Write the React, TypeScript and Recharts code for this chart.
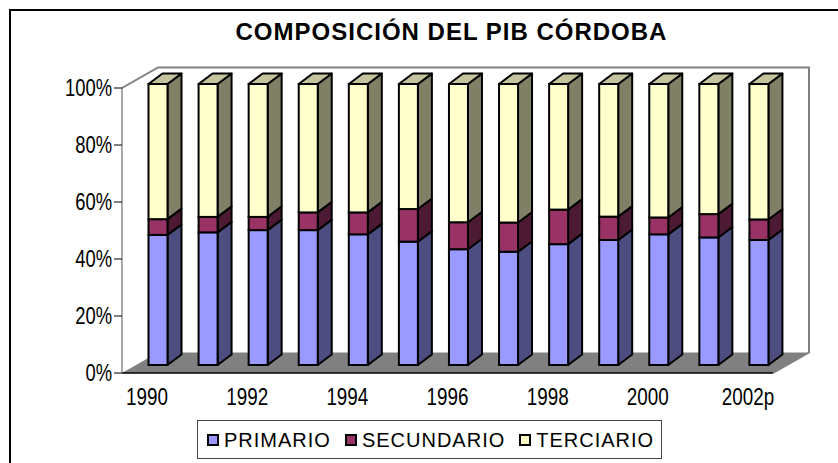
import React from 'react';
import { ComposedChart, Bar, XAxis, YAxis } from 'recharts';

const years = ['1990', '1991', '1992', '1993', '1994', '1995', '1996', '1997', '1998', '1999', '2000', '2001', '2002p'];
const primario = [46.3, 47.2, 48.0, 48.0, 46.5, 43.9, 41.2, 40.3, 43.0, 44.5, 46.5, 45.4, 44.5];
const secundario = [5.6, 5.5, 4.7, 6.3, 7.8, 11.6, 9.6, 10.4, 12.3, 8.3, 6.0, 8.3, 7.3];
const terciario = [48.1, 47.3, 47.3, 45.7, 45.7, 44.5, 49.2, 49.3, 44.7, 47.2, 47.5, 46.3, 48.2];
const yTicks = [0, 0.2, 0.4, 0.6, 0.8, 1];
const seriesNames = ['PRIMARIO', 'SECUNDARIO', 'TERCIARIO'];
const title = 'COMPOSICIÓN DEL PIB CÓRDOBA';

const data = years.map((year, i) => ({
  year,
  PRIMARIO: primario[i],
  SECUNDARIO: secundario[i],
  TERCIARIO: terciario[i],
}));

const W = 838;
const H = 463;
const PL = 122;
const PR = 773;
const PT = 88;
const PB = 373;
const YAXIS_W = 80;
const XAXIS_H = 30;
const FONT = '"Liberation Sans", Arial, sans-serif';

// 3D projection constants
const SX = 10.5;
const SY = -8;
const K = 281 / 285;
const DX = 14;
const DY = -10.5;
const FLOOR_DX = 36;
const FLOOR_DY = -20.5;

const colors = {
  PRIMARIO: { front: '#9999FF', side: '#4D4D80', top: '#7373BF' },
  SECUNDARIO: { front: '#993366', side: '#4D1A33', top: '#73264D' },
  TERCIARIO: { front: '#FFFFCC', side: '#808066', top: '#C4C49E' },
};

const make3D = (key: string, isTop: boolean) => (props: any) => {
  const { x, y, width, height } = props;
  if (x == null || y == null) return <g />;
  const c = (colors as any)[key];
  const fy = (v: number) => PB - (PB - v) * K + SY;
  const x1 = x + SX;
  const y1 = fy(y);
  const y2 = fy(y + height);
  const w = width;
  const sw = 2;
  return (
    <g>
      <polygon
        points={`${x1 + w},${y1} ${x1 + w + DX},${y1 + DY} ${x1 + w + DX},${y2 + DY} ${x1 + w},${y2}`}
        fill={c.side}
        stroke="#000"
        strokeWidth={sw}
        strokeLinejoin="round"
      />
      {isTop && (
        <polygon
          points={`${x1},${y1} ${x1 + DX},${y1 + DY} ${x1 + w + DX},${y1 + DY} ${x1 + w},${y1}`}
          fill={c.top}
          stroke="#000"
          strokeWidth={sw}
          strokeLinejoin="round"
        />
      )}
      <rect x={x1} y={y1} width={w} height={y2 - y1} fill={c.front} stroke="#000" strokeWidth={sw} />
    </g>
  );
};

const YTick = (props: any) => {
  const { x, y, payload } = props;
  return (
    <text
      transform={`translate(${x},${y}) scale(0.8,1)`}
      textAnchor="end"
      dy="0.36em"
      fontSize={23}
      fontFamily={FONT}
      fill="#000"
    >
      {`${Math.round(payload.value * 100)}%`}
    </text>
  );
};

const XTick = (props: any) => {
  const { x, y, payload } = props;
  return (
    <text
      transform={`translate(${x},${y + 24}) scale(0.82,1)`}
      textAnchor="middle"
      fontSize={23}
      fontFamily={FONT}
      fill="#000"
    >
      {payload.value}
    </text>
  );
};

const boundaryTicks = years.map((_, i) => i).concat([years.length]);

const Background = () => {
  const fl = [PL, PB];
  const fr = [PR, PB];
  const br = [PR + FLOOR_DX, PB + FLOOR_DY];
  const bl = [PL + FLOOR_DX, PB + FLOOR_DY];
  const wallTop = PT + FLOOR_DY;
  return (
    <svg width={W} height={H} style={{ position: 'absolute', left: 0, top: 0 }}>
      <text x={451.5} y={40} textAnchor="middle" fontSize={24} fontWeight="bold" fontFamily={FONT} letterSpacing={1} fill="#000">
        {title}
      </text>
      <polygon points={`${fl.join(',')} ${fr.join(',')} ${br.join(',')} ${bl.join(',')}`} fill="#808080" />
      <polyline
        points={`${PL},${PT} ${PL + FLOOR_DX},${wallTop} ${PR + FLOOR_DX},${wallTop} ${br.join(',')} ${fr.join(',')}`}
        fill="none"
        stroke="#808080"
        strokeWidth={2}
      />
    </svg>
  );
};

const Legend3 = () => (
  <div
    style={{
      position: 'absolute',
      left: 197,
      top: 420,
      width: 463,
      height: 37,
      border: '1px solid #444',
      background: '#fff',
      display: 'flex',
      alignItems: 'center',
      fontFamily: FONT,
      fontSize: 20,
      letterSpacing: 1,
      boxSizing: 'content-box',
    }}
  >
    {seriesNames.map((name, i) => (
      <div key={name} style={{ display: 'flex', alignItems: 'center', marginLeft: i === 0 ? 9 : 14 }}>
        <div
          style={{
            width: 8,
            height: 8,
            border: '2px solid #000',
            background: (colors as any)[name].front,
            marginRight: 5,
          }}
        />
        <span style={{ lineHeight: '20px' }}>{name}</span>
      </div>
    ))}
  </div>
);

export default function App() {
  return (
    <div style={{ position: 'relative', width: W, height: H, overflow: 'hidden', background: '#fff' }}>
      <style>{`body{margin:0;overflow:hidden;}`}</style>
      <div
        style={{
          position: 'absolute',
          left: 9,
          top: 9,
          width: 1000,
          height: 1000,
          borderLeft: '2px solid #000',
          borderTop: '2px solid #000',
        }}
      />
      <Background />
      <div style={{ position: 'absolute', left: 0, top: 0 }}>
        <ComposedChart
          width={W}
          height={H}
          data={data}
          stackOffset="expand"
          margin={{ top: PT, right: W - PR, bottom: H - PB - XAXIS_H, left: PL - YAXIS_W }}
        >
          <XAxis
            xAxisId="ticks"
            type="number"
            domain={[0, years.length]}
            ticks={boundaryTicks}
            allowDataOverflow
            height={0}
            axisLine={false}
            tickLine={{ stroke: '#000', strokeWidth: 1 }}
            tickSize={7}
            tick={() => <g />}
          />
          <XAxis
            xAxisId="cat"
            dataKey="year"
            interval={1}
            height={XAXIS_H}
            axisLine={{ stroke: '#000', strokeWidth: 1.5 }}
            tickLine={false}
            tick={<XTick />}
          />
          <YAxis
            width={YAXIS_W}
            domain={[0, 1]}
            ticks={yTicks}
            tickSize={8}
            tickMargin={2}
            axisLine={{ stroke: '#555', strokeWidth: 1 }}
            tickLine={{ stroke: '#000', strokeWidth: 1 }}
            tick={<YTick />}
          />
          <Bar xAxisId="cat" dataKey="PRIMARIO" stackId="a" barSize={19} isAnimationActive={false} shape={make3D('PRIMARIO', false)} />
          <Bar xAxisId="cat" dataKey="SECUNDARIO" stackId="a" barSize={19} isAnimationActive={false} shape={make3D('SECUNDARIO', false)} />
          <Bar xAxisId="cat" dataKey="TERCIARIO" stackId="a" barSize={19} isAnimationActive={false} shape={make3D('TERCIARIO', true)} />
        </ComposedChart>
      </div>
      <Legend3 />
    </div>
  );
}
